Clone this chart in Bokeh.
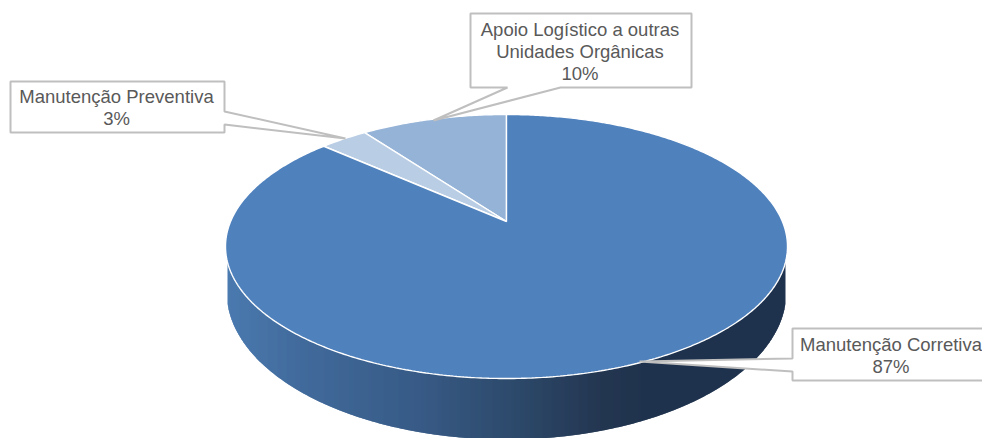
import numpy as np
from bokeh.plotting import figure
from bokeh.models import Range1d
from bokeh.core.properties import value
from bokeh.embed import file_html
from bokeh.resources import INLINE

categories = ["Apoio Logístico a outras Unidades Orgânicas", "Manutenção Preventiva", "Manutenção Corretiva"]
label_lines = [["Apoio Logístico a outras", "Unidades Orgânicas"], ["Manutenção Preventiva"], ["Manutenção Corretiva"]]
values = [10.1, 3.3, 86.6]
colors = ["#95B3D7", "#B9CDE5", "#4F81BD"]

# pie geometry (screen pixels)
CX, CY, RX, RY, APEX = 506.0, 246.0, 281.0, 132.0, 25.0
BCY, BRX, BRY = 291.0, 280.0, 148.0
K = 0.1894


def project(theta):
    u, v = -np.sin(theta), np.cos(theta)
    d = 1 + K * v
    return CX + RX * np.sqrt(1 - K ** 2) * u / d, CY - RY * (v + K) / d


p = figure(width=982, height=438, output_backend="svg", toolbar_location=None,
           x_range=Range1d(0, 982), y_range=Range1d(438, 0),
           x_axis_type=None, y_axis_type=None, min_border=0,
           outline_line_color=None, background_fill_color="white",
           border_fill_color="white")
p.grid.visible = False

# side wall: vertical strips with a left-to-right gradient
stops_x = [225, 300, 420, 520, 600, 650, 790]
stops_r = [0x4B, 0x42, 0x38, 0x2D, 0x24, 0x1F, 0x1F]
stops_g = [0x7B, 0x6B, 0x5B, 0x49, 0x37, 0x33, 0x33]
stops_b = [0xB0, 0x9C, 0x86, 0x6A, 0x52, 0x4E, 0x4E]
XL, XR = 227.0, 785.0
xs, ys, cols = [], [], []
for x0 in np.arange(XL, XR - 1, 1.0):
    xx = np.array([x0, min(x0 + 2.0, XR)])
    top = CY + RY * np.sqrt(np.clip(1 - ((xx - CX) / RX) ** 2, 0, 1)) - 2
    bot = BCY + BRY * np.sqrt(np.clip(1 - ((xx - CX) / BRX) ** 2, 0, 1))
    xs.append([xx[0], xx[1], xx[1], xx[0]])
    ys.append([top[0], top[1], bot[1], bot[0]])
    m = x0 + 0.5
    cols.append("#%02x%02x%02x" % (int(np.interp(m, stops_x, stops_r)),
                                   int(np.interp(m, stops_x, stops_g)),
                                   int(np.interp(m, stops_x, stops_b))))
p.patches(xs, ys, fill_color=cols, line_color=None)

# top face slices
total = sum(values)
start = 0.0
sx, sy = [], []
for val in values:
    end = start + val / total * 2 * np.pi
    t = np.linspace(start, end, max(int(val * 6), 12))
    px, py = project(t)
    sx.append(np.r_[CX, px])
    sy.append(np.r_[CY - APEX, py])
    start = end
p.patches(sx, sy, fill_color=colors, line_color="white", line_width=1.4)

# label call-outs
box_x = [
    [470, 691, 691, 560, 433, 507, 470, 470],
    [10, 224, 224, 345, 224, 224, 10, 10],
    [792, 1000, 1000, 792, 792, 639, 792, 792],
]
box_y = [
    [13, 13, 87, 87, 120, 87, 87, 13],
    [81, 81, 111, 138, 124, 132, 132, 81],
    [328, 328, 380, 380, 371, 361, 358, 328],
]
p.patches(box_x, box_y, fill_color="white", line_color="#BFBFBF", line_width=2)

# label texts
text_x = [579.5, 116, 890.5]
text_y = [[29, 51, 73], [96, 117.5], [344, 366]]
tx, ty, tt = [], [], []
for lines, val, x, yy in zip(label_lines, values, text_x, text_y):
    for line, y in zip(lines + [f"{round(val)}%"], yy):
        tx.append(x)
        ty.append(y)
        tt.append(line)
p.text(tx, ty, text=tt, text_font=value("Liberation Sans"), text_font_size="18.5px",
       text_color="#595959", text_align="center", text_baseline="middle")

open("out.html", "w").write(file_html(p, INLINE))
